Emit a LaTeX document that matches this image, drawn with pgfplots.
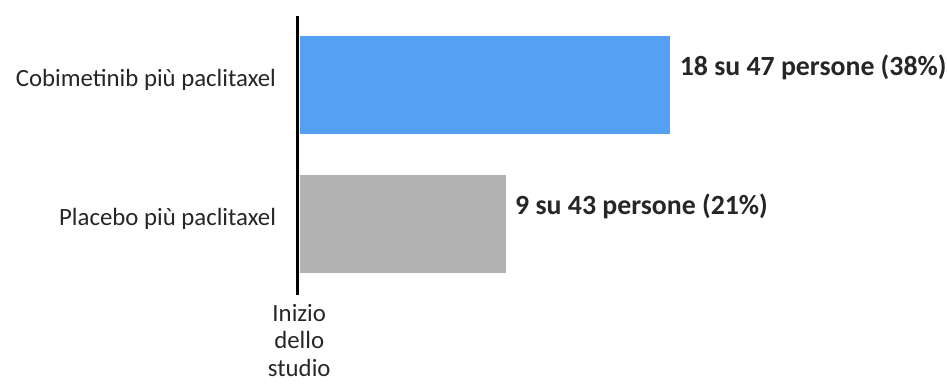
\documentclass[border=0pt]{standalone}
\usepackage{pgfplots}
\pgfplotsset{compat=1.18}
\usepackage{fontspec}
\setmainfont{Carlito}
\definecolor{barblue}{HTML}{55A0F2}
\definecolor{bargray}{HTML}{B3B3B3}
\definecolor{txt}{HTML}{262626}
\begin{document}
\begin{tikzpicture}
\useasboundingbox (0,0) rectangle (947pt,383pt);
\begin{axis}[
  at={(297.8pt,88pt)}, anchor=south west,
  scale only axis,
  width=586.7pt, height=279pt,
  xmin=-0.25, xmax=60,
  ymin=-0.511, ymax=1.496,
  axis x line=none,
  axis y line=left,
  y axis line style={-, line width=3.2pt, black},
  xtick=\empty,
  ytick={0,1},
  yticklabels={Placebo più paclitaxel, Cobimetinib più paclitaxel},
  ytick style={draw=none},
  yticklabel style={font=\fontsize{24.8}{28}\selectfont, text=txt, xshift=-14pt, yshift=5pt},
  xbar, bar width=0.705, bar shift=0pt,
  nodes near coords,
  point meta=explicit symbolic,
  every node near coord/.append style={font=\bfseries\fontsize{27.8}{30}\selectfont, text=txt, anchor=west, xshift=6pt, yshift=18pt},
  clip=false,
]
\addplot[fill=barblue, draw=none] coordinates {(38,1) [18 su 47 persone (38\%)]};
\addplot[fill=bargray, draw=none] coordinates {(21.1,0) [9 su 43 persone (21\%)]};
\node[anchor=north, align=center, font=\fontsize{24.8}{27.5}\selectfont, text=txt, inner sep=0pt] at (axis cs:-0.1,-0.511) [yshift=-9pt] {Inizio\\dello\\studio};
\end{axis}
\end{tikzpicture}
\end{document}
